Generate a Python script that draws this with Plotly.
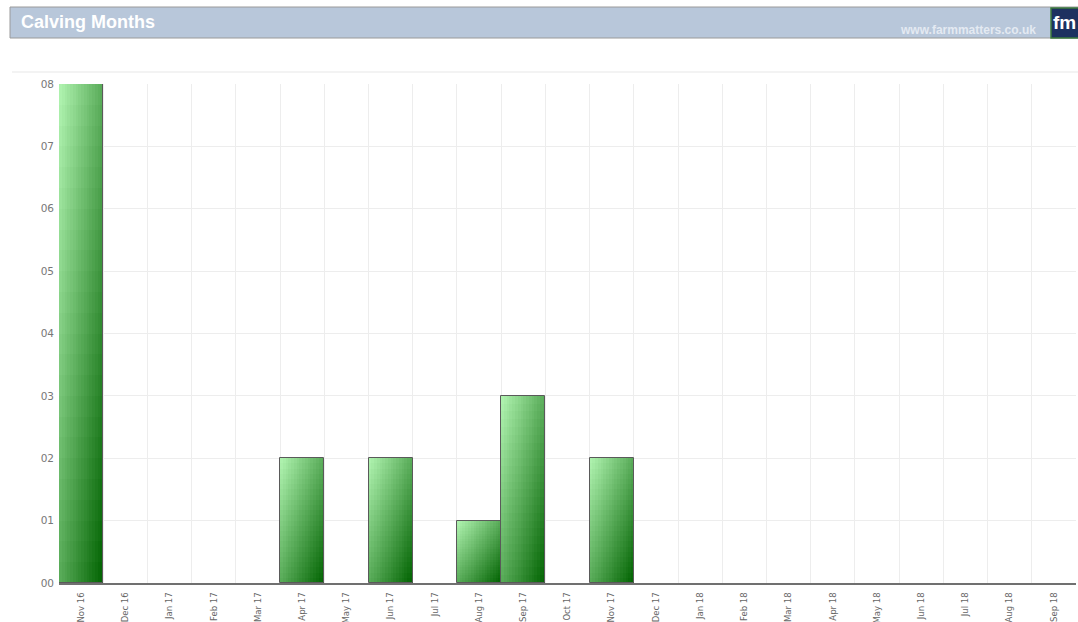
import plotly.graph_objects as go

# ---- data ----
months = ["Nov 16", "Dec 16", "Jan 17", "Feb 17", "Mar 17", "Apr 17", "May 17", "Jun 17",
          "Jul 17", "Aug 17", "Sep 17", "Oct 17", "Nov 17", "Dec 17", "Jan 18", "Feb 18",
          "Mar 18", "Apr 18", "May 18", "Jun 18", "Jul 18", "Aug 18", "Sep 18"]
calvings = [8, 0, 0, 0, 0, 2, 0, 2, 0, 1, 3, 0, 2, 0, 0, 0, 0, 0, 0, 0, 0, 0, 0]
y_ticks = [0, 1, 2, 3, 4, 5, 6, 7, 8]

title_text = "Calving Months"
site_text = "www.farmmatters.co.uk"

# ---- layout geometry (page pixels) ----
W, H = 1078, 622
plot_left, plot_right, plot_top, plot_bottom = 59, 1076, 84, 583
L = plot_left
T = plot_top
R = W - plot_right
B = H - plot_bottom
pw, ph = W - L - R, H - T - B

def px_x(px):
    return (px - plot_left) / pw

def px_y(py):
    return (plot_bottom - py) / ph

light = (178, 245, 178)
dark = (0, 98, 0)

def mix(t):
    c = [round(a + (b - a) * t) for a, b in zip(light, dark)]
    return f"rgb({c[0]},{c[1]},{c[2]})"

fig = go.Figure()

N = 16  # horizontal strips
M = 24  # vertical segments
for j in range(M):
    v = 1 - (j + 0.5) / M  # fraction from top (0 at top)
    for i in range(N):
        u = (i + 0.5) / N
        t = (u + v) / 2
        fig.add_trace(go.Bar(
            x=months,
            y=[c / M for c in calvings],
            base=[c * j / M for c in calvings],
            width=1 / N,
            offset=-0.5 + i / N,
            marker=dict(color=mix(t), line=dict(width=0)),
            hoverinfo="skip",
            showlegend=False,
        ))

# outline
fig.add_trace(go.Bar(
    x=months,
    y=[c if c > 0 else None for c in calvings],
    width=1,
    marker=dict(color="rgba(0,0,0,0)", line=dict(color="#5a5a5a", width=1)),
    showlegend=False,
    name="Calvings",
))

shapes = [
    # header banner
    dict(type="rect", xref="paper", yref="paper",
         x0=px_x(10), x1=px_x(1080), y0=px_y(38), y1=px_y(7),
         fillcolor="#b8c7da", line=dict(color="#9a9a9a", width=1), layer="above"),
    # logo box
    dict(type="rect", xref="paper", yref="paper",
         x0=px_x(1051), x1=px_x(1082), y0=px_y(38), y1=px_y(8),
         fillcolor="#1d3160", line=dict(color="#3c7a3c", width=1.5), layer="above"),
    # faint top separator
    dict(type="line", xref="paper", yref="paper",
         x0=px_x(12), x1=px_x(1078), y0=px_y(72), y1=px_y(72),
         line=dict(color="#f3f3f3", width=2)),
]

annotations = [
    dict(text="<b>" + title_text + "</b>", xref="paper", yref="paper",
         x=px_x(19), y=px_y(22), xanchor="left", yanchor="middle", showarrow=False,
         font=dict(family="Liberation Sans, Arial", size=18, color="white")),
    dict(text="<b>" + site_text + "</b>", xref="paper", yref="paper",
         x=px_x(1038), y=px_y(30), xanchor="right", yanchor="middle", showarrow=False,
         font=dict(family="Liberation Sans, Arial", size=12, color="#e4eaf2")),
    dict(text="<b>fm</b>", xref="paper", yref="paper",
         x=px_x(1064), y=px_y(23), xanchor="center", yanchor="middle", showarrow=False,
         font=dict(family="Liberation Sans, Arial", size=19, color="white")),
]

fig.update_layout(
    width=W, height=H,
    margin=dict(l=L, r=R, t=T, b=B, pad=0, autoexpand=False),
    paper_bgcolor="white", plot_bgcolor="white",
    barmode="overlay", bargap=0,
    showlegend=False,
    shapes=shapes,
    annotations=annotations,
    xaxis=dict(
        type="category", categoryorder="array", categoryarray=months,
        tickson="boundaries", showgrid=True, gridcolor="#ededed", gridwidth=1.2,
        ticks="", tickangle=-90, ticklabelstandoff=4, automargin=False,
        tickfont=dict(family="DejaVu Sans, Verdana", size=8.5, color="#666666"),
        showline=True, linecolor="#707070", linewidth=2,
        range=[-0.5, len(months) - 0.5], fixedrange=True,
    ),
    yaxis=dict(
        range=[0, 8], tickvals=y_ticks, tickformat="02d",
        showgrid=True, gridcolor="#ededed", gridwidth=1.2, zeroline=False,
        ticks="", ticklabelstandoff=4, automargin=False,
        tickfont=dict(family="DejaVu Sans, Verdana", size=10.5, color="#777777"),
        showline=False, fixedrange=True,
    ),
)

fig.write_html(
    "out.html",
    config={"displayModeBar": False},
    post_script="document.body.style.margin='0';document.body.style.overflow='hidden';",
)
